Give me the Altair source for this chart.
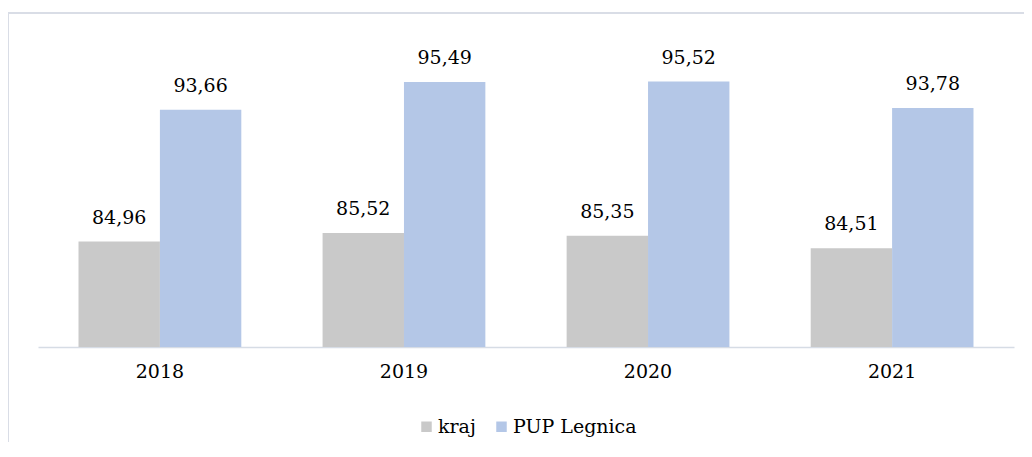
import altair as alt
import pandas as pd

years = ["2018", "2019", "2020", "2021"]
kraj = [84.96, 85.52, 85.35, 84.51]
pup = [93.66, 95.49, 95.52, 93.78]
series = ["kraj", "PUP Legnica"]
colors = ["#C9C9C9", "#B4C7E7"]

rows = []
for i, y in enumerate(years):
    rows.append({"year": y, "series": series[0], "value": kraj[i]})
    rows.append({"year": y, "series": series[1], "value": pup[i]})
df = pd.DataFrame(rows)

FONT = "DejaVu Serif"
FS = 19
FRAME = "#D9DDE6"

base = alt.Chart(df).encode(
    x=alt.X("year:N", sort=years,
            scale=alt.Scale(paddingInner=0.333, paddingOuter=0.166),
            axis=alt.Axis(title=None, labelAngle=0, ticks=False, domainColor="#D6DCE5",
                          domainWidth=1.5, labelFont=FONT, labelFontSize=FS,
                          labelColor="#000000", labelPadding=15)),
    xOffset=alt.XOffset("series:N", sort=series,
                        scale=alt.Scale(paddingInner=0, paddingOuter=0)),
    y=alt.Y("value:Q", scale=alt.Scale(domain=[78, 98], zero=False, nice=False), axis=None),
)

bars = base.mark_bar(clip=True).encode(
    color=alt.Color("series:N", sort=series,
                    scale=alt.Scale(domain=series, range=colors),
                    legend=alt.Legend(title=None, orient="none", direction="horizontal",
                                      legendX=379, legendY=373, symbolType="square",
                                      symbolSize=110, symbolStrokeWidth=0,
                                      labelFont=FONT, labelFontSize=FS, labelColor="#000000",
                                      labelOffset=2, columnPadding=16))
)

labels = base.mark_text(baseline="bottom", dy=-14, font=FONT, fontSize=FS, color="#000000").transform_calculate(
    lab="replace(format(datum.value, '.2f'), '.', ',')"
).encode(text="lab:N")

frame_df = pd.DataFrame({"k": [0]})
top_line = alt.Chart(frame_df).mark_rule(color=FRAME, strokeWidth=2).encode(
    x=alt.value(-30), x2=alt.value(990), y=alt.value(-31))
left_line = alt.Chart(frame_df).mark_rule(color=FRAME, strokeWidth=2).encode(
    x=alt.value(-30), y=alt.value(-31), y2=alt.value(400))

chart = alt.layer(bars, labels, top_line, left_line).properties(
    width=976, height=303,
    padding={"left": 30, "top": 36, "right": 10, "bottom": 95},
    autosize=alt.AutoSizeParams(type="none"),
).configure_view(stroke=None)

chart.save("out.html", embed_options={"renderer": "svg", "actions": False})
